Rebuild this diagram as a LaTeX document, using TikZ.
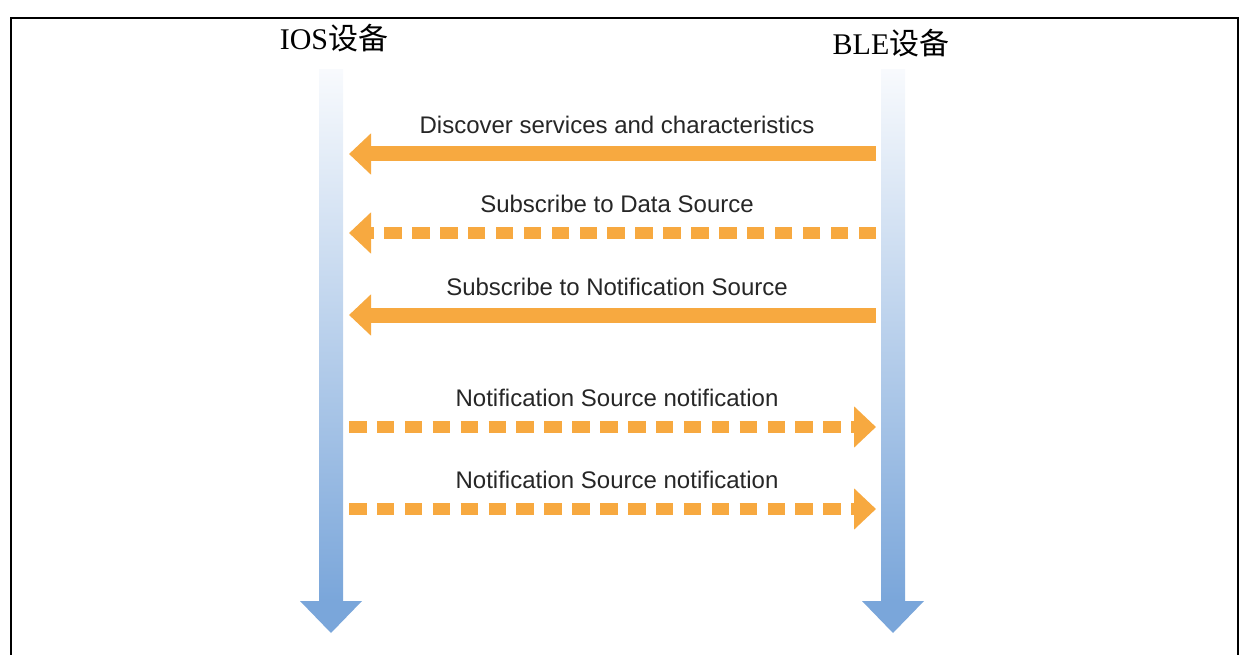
\documentclass[tikz,border=0pt]{standalone}
\usepackage{fontspec}
\usepackage{tikz}
\setmainfont{Liberation Serif}
\newfontfamily\cjkfont{Noto Sans CJK SC}
\newfontfamily\msgfont{Liberation Sans}
\usetikzlibrary{arrows.meta}

\definecolor{msgorange}{RGB}{247,169,64}
\definecolor{lifeblue}{RGB}{122,166,218}
\definecolor{lifemid}{RGB}{200,218,241}
\definecolor{lifetop}{RGB}{248,250,253}

\tikzset{
  msg/.style={draw=msgorange, line width=15pt, -{Triangle[length=22pt,width=40pt]}},
  dmsg/.style={msg, line width=12pt, dash pattern=on 17.5pt off 10.4pt},
  msglabel/.style={font=\msgfont\fontsize{24}{28}\selectfont, text=black!85, anchor=base, inner sep=0pt},
  devtitle/.style={font=\fontsize{30}{34}\selectfont, anchor=base, inner sep=0pt},
}

\begin{document}
\begin{tikzpicture}[x=1pt,y=-1pt]
            \useasboundingbox (0,0) rectangle (1248,655);
            % frame
            \draw[line width=2pt] (11,656) -- (11,18) -- (1238,18) -- (1238,656);

            % devices
            \node[devtitle] (ios) at (334,50) {IOS{\cjkfont 设备}};
            \node[devtitle] (ble) at (891,55) {BLE{\cjkfont 设备}};

            % lifelines
            \shade[top color=lifetop, middle color=lifemid, bottom color=lifeblue] (319,70) rectangle (343,602);
            \fill[lifeblue] (300,601) -- (362,601) -- (331,633) -- cycle;
            \shade[top color=lifetop, middle color=lifemid, bottom color=lifeblue] (881,70) rectangle (905,602);
            \fill[lifeblue] (862,601) -- (924,601) -- (893,633) -- cycle;

            % message ends
            \coordinate (iosA) at (349,154);
            \coordinate (bleA) at (876,154);
            \coordinate (iosB) at (349,233);
            \coordinate (bleB) at (876,233);
            \coordinate (iosC) at (349,315);
            \coordinate (bleC) at (876,315);
            \coordinate (iosD) at (349,427);
            \coordinate (bleD) at (876,427);
            \coordinate (iosE) at (349,509);
            \coordinate (bleE) at (876,509);

            % messages
            \draw[msg] (bleA) -- (iosA);
            \node[msglabel] (discover) at (617,134) {Discover services and characteristics};
            \draw[dmsg] (bleB) -- (iosB);
            \node[msglabel] (datasrc) at (617,213) {Subscribe to Data Source};
            \draw[msg] (bleC) -- (iosC);
            \node[msglabel] (notifsrc) at (617,295) {Subscribe to Notification Source};
            \draw[dmsg] (iosD) -- (bleD);
            \node[msglabel] (notifA) at (617,406) {Notification Source notification};
            \draw[dmsg] (iosE) -- (bleE);
            \node[msglabel] (notifB) at (617,488) {Notification Source notification};
\end{tikzpicture}
\end{document}
